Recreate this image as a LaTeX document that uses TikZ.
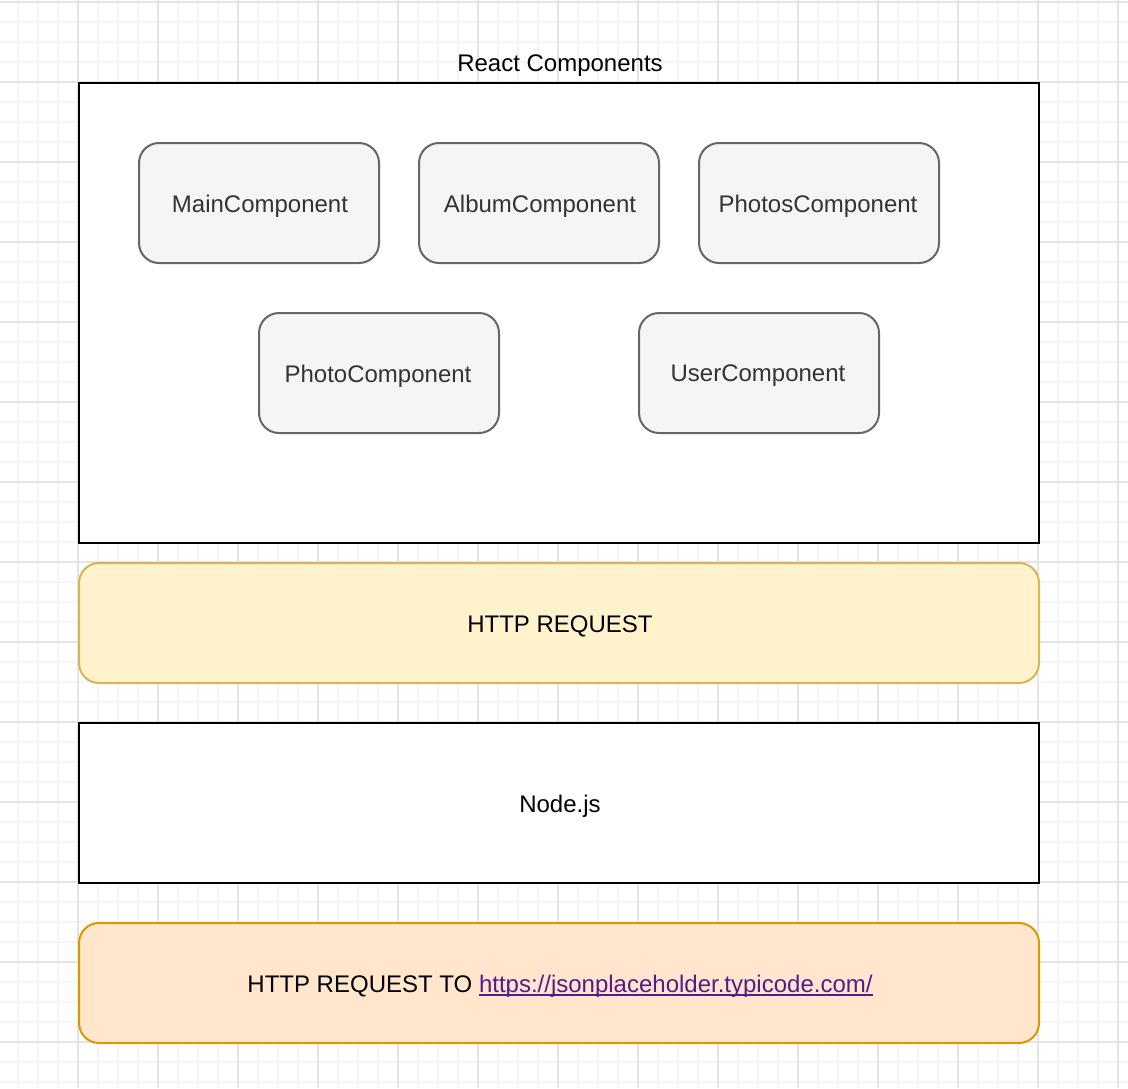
\documentclass[tikz,border=0pt]{standalone}
\usepackage{fontspec}
\setmainfont{Liberation Sans}
\definecolor{gridminor}{HTML}{F5F5F5}
\definecolor{gridmajor}{HTML}{E4E4E4}
\definecolor{compfill}{HTML}{F5F5F5}
\definecolor{compdraw}{HTML}{666666}
\definecolor{comptext}{HTML}{333333}
\definecolor{yfill}{HTML}{FFF2CC}
\definecolor{ydraw}{HTML}{D6B656}
\definecolor{ofill}{HTML}{FFE6CC}
\definecolor{odraw}{HTML}{D79B00}
\definecolor{linkcol}{HTML}{551A8B}
\newcommand{\mylinktext}[1]{{\color{linkcol}\setbox0\hbox{#1}\rlap{\raisebox{-3.5pt}{\rule{\wd0}{1.6pt}}}\box0}}
\tikzset{
  px/.style={x=1pt,y=-1pt},
  comp/.style={draw=compdraw,fill=compfill,line width=2pt,rounded corners=20pt},
  plainbox/.style={draw=black,fill=white,line width=2pt},
  lbl/.style={font=\fontsize{24}{28}\selectfont,text=black,inner sep=0pt},
}
\begin{document}
\begin{tikzpicture}[px]
\useasboundingbox (0,0) rectangle (1128,1088);
\fill[white] (0,0) rectangle (1128,1088);
% grid
\foreach \x in {18,38,...,1128} \draw[gridminor,line width=1.5pt] (\x,0) -- (\x,1088);
\foreach \y in {2,22,...,1088} \draw[gridminor,line width=1.5pt] (0,\y) -- (1128,\y);
\foreach \x in {78,158,...,1128} \draw[gridmajor,line width=1.5pt] (\x,0) -- (\x,1088);
\foreach \y in {2,82,...,1088} \draw[gridmajor,line width=1.5pt] (0,\y) -- (1128,\y);
% React container
\draw[plainbox] (79,83) rectangle (1039,543);
\node[lbl] (reacttitle) at (560,66) {React Components};
% components
\draw[comp] (139,143) rectangle (379,263); \node[lbl,text=comptext] (main) at (260,206) {MainComponent};
\draw[comp] (419,143) rectangle (659,263); \node[lbl,text=comptext] (album) at (540,206) {AlbumComponent};
\draw[comp] (699,143) rectangle (939,263); \node[lbl,text=comptext] (photos) at (818,206) {PhotosComponent};
\draw[comp] (259,313) rectangle (499,433); \node[lbl,text=comptext] (photo) at (378,376) {PhotoComponent};
\draw[comp] (639,313) rectangle (879,433); \node[lbl,text=comptext] (user) at (758,376) {UserComponent};
% HTTP request
\draw[draw=ydraw,fill=yfill,line width=2pt,rounded corners=20pt] (79,563) rectangle (1039,683);
\node[lbl] (http) at (560,626) {HTTP REQUEST};
% Node.js
\draw[plainbox] (79,723) rectangle (1039,883);
\node[lbl] (nodejs) at (560,806) {Node.js};
% HTTP request to
\draw[draw=odraw,fill=ofill,line width=2pt,rounded corners=20pt] (79,923) rectangle (1039,1043);
\node[lbl] (httpto) at (560,986) {HTTP REQUEST TO \mylinktext{https://jsonplaceholder.typicode.com/}};
\end{tikzpicture}
\end{document}
